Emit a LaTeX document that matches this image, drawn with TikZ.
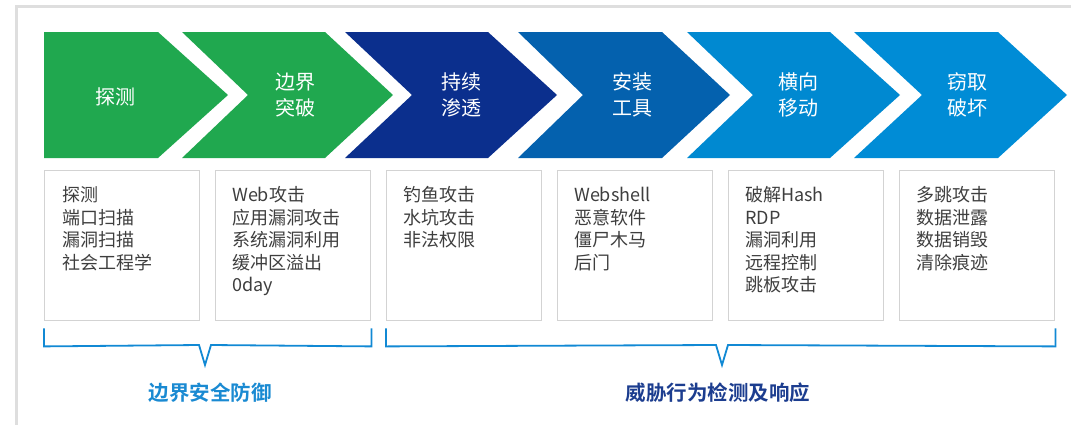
\documentclass[tikz,border=0pt]{standalone}
\usepackage{fontspec}
\setmainfont{Noto Sans CJK SC}
\newfontfamily\cjkbold{Noto Sans CJK SC Bold}
\usetikzlibrary{calc}
\definecolor{cgreen}{HTML}{20A84F}
\definecolor{cdark}{HTML}{0B2F8D}
\definecolor{cmid}{HTML}{0461AE}
\definecolor{clight}{HTML}{0089D1}
\definecolor{clight2}{HTML}{008CD6}
\definecolor{boxgray}{HTML}{D3D3D3}
\definecolor{txtgray}{HTML}{3E3E3E}
\definecolor{framegray}{HTML}{DEDEDE}
\definecolor{brblue}{HTML}{1189D4}
\definecolor{lblblue}{HTML}{1A8AD2}
\definecolor{lbldark}{HTML}{1C3D8F}
\tikzset{
  chevtext/.style={text=white, font=\fontsize{20}{26}\selectfont, align=center, inner sep=0pt, anchor=base},
  infobox/.style={draw=boxgray, line width=1.4pt, minimum width=155pt, minimum height=150pt, inner sep=0pt, anchor=north west},
  infotext/.style={text=txtgray, font=\fontsize{18}{22.6}\selectfont, align=left, inner sep=0pt, anchor=base west},
  bracketline/.style={draw=brblue, line width=1.8pt, line join=miter},
  grouplabel/.style={font=\cjkbold\fontsize{20.5}{24}\selectfont, inner sep=0pt, anchor=base}
}
\begin{document}
\begin{tikzpicture}[x=1pt,y=-1pt]
\useasboundingbox (0,0) rectangle (1071,424);
% frame
\draw[framegray, line width=3pt] (16,430) -- (16,6) -- (1075,6);
% chevrons
\fill[cgreen] (44,32) -- (158,32) -- (228,95) -- (158,158) -- (44,158) -- cycle;
\fill[cgreen] (182,32) -- (325,32) -- (393,95) -- (325,158) -- (182,158) -- (248,95) -- cycle;
\fill[cdark] (345,32) -- (488,32) -- (557,95) -- (488,158) -- (345,158) -- (412,95) -- cycle;
\fill[cmid] (518,32) -- (662,32) -- (730,95) -- (662,158) -- (518,158) -- (583,95) -- cycle;
\fill[clight] (687,32) -- (830,32) -- (900,95) -- (830,158) -- (687,158) -- (753,95) -- cycle;
\fill[clight2] (854,32) -- (998,32) -- (1067,95) -- (998,158) -- (854,158) -- (922,95) -- cycle;
% chevron labels (base anchor = baseline of last line)
\node[chevtext] (c1) at (115,104.6) {探测};
\node[chevtext] (c2) at (295,115.6) {边界\\突破};
\node[chevtext] (c3) at (461,115.6) {持续\\渗透};
\node[chevtext] (c4) at (632,115.6) {安装\\工具};
\node[chevtext] (c5) at (798,115.6) {横向\\移动};
\node[chevtext] (c6) at (967,115.6) {窃取\\破坏};
% boxes
\node[infobox] (b1) at (44,170) {};
\node[infobox] (b2) at (215,170) {};
\node[infobox] (b3) at (386,170) {};
\node[infobox] (b4) at (557,170) {};
\node[infobox] (b5) at (728,170) {};
\node[infobox] (b6) at (899,170) {};
% box texts (base anchor = baseline of last line; first baseline at box top + 31.5)
\node[infotext] (t1) at ($(b1.north west)+(18,99.3)$) {探测\\端口扫描\\漏洞扫描\\社会工程学};
\node[infotext] (t2) at ($(b2.north west)+(17,121.9)$) {Web攻击\\应用漏洞攻击\\系统漏洞利用\\缓冲区溢出\\0day};
\node[infotext] (t3) at ($(b3.north west)+(17,76.7)$) {钓鱼攻击\\水坑攻击\\非法权限};
\node[infotext] (t4) at ($(b4.north west)+(17,99.3)$) {Webshell\\恶意软件\\僵尸木马\\后门};
\node[infotext] (t5) at ($(b5.north west)+(17,121.9)$) {破解Hash\\RDP\\漏洞利用\\远程控制\\跳板攻击};
\node[infotext] (t6) at ($(b6.north west)+(17,99.3)$) {多跳攻击\\数据泄露\\数据销毁\\清除痕迹};
% brackets
\draw[bracketline] ($(b1.south west)+(0,7)$) -- ($(b1.south west)+(0,25)$) -- (199,345) -- (205,365) -- (211,345) -- ($(b2.south east)+(0,25)$) -- ($(b2.south east)+(0,7)$);
\draw[bracketline] ($(b3.south west)+(0,7)$) -- ($(b3.south west)+(0,25)$) -- (716,345) -- (722,365) -- (728,345) -- ($(b6.south east)+(0,25)$) -- ($(b6.south east)+(0,7)$);
% group labels
\node[grouplabel, text=lblblue] (g1) at (210,400.6) {边界安全防御};
\node[grouplabel, text=lbldark] (g2) at (718,400.6) {威胁行为检测及响应};
\end{tikzpicture}
\end{document}
